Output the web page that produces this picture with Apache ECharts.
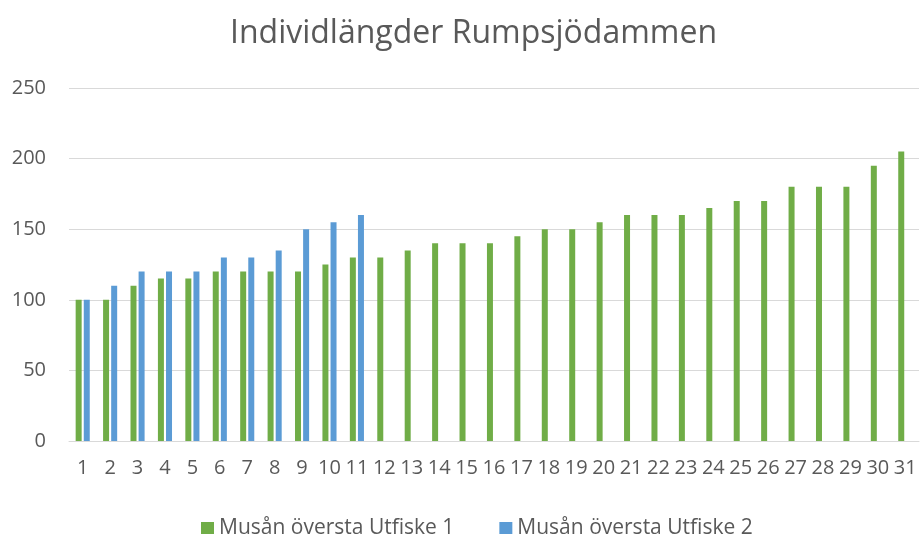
<!DOCTYPE html>
<html><head><meta charset="utf-8">
<script src="https://cdn.jsdelivr.net/npm/echarts@6/dist/echarts.min.js"></script>
<style>html,body{margin:0;padding:0;background:#fff}#c{width:924px;height:534px}</style>
</head><body><div id="c"></div>
<script>
const categories = Array.from({length:31},(_,i)=>String(i+1));
const series1Name = 'Musån översta Utfiske 1';
const series2Name = 'Musån översta Utfiske 2';
const series1 = [100,100,110,115,115,120,120,120,120,125,130,130,135,140,140,140,145,150,150,155,160,160,160,165,170,170,180,180,180,195,205];
const series2 = [100,110,120,120,120,130,130,135,150,155,160];
const yTicks = [0,50,100,150,200,250];

const font = '"Open Sans", sans-serif';
const chart = echarts.init(document.getElementById('c'));
chart.setOption({
  animation:false,
  title:{text:'Individlängder Rumpsjödammen',left:225,top:13,
    textStyle:{fontFamily:font,fontSize:32,fontWeight:'normal',color:'#595959'}},
  legend:{top:513,left:196,itemWidth:13,itemHeight:13,itemGap:45,icon:'rect',
    textStyle:{fontFamily:font,fontSize:21,color:'#595959'},
    data:[series1Name,series2Name]},
  grid:{left:69,right:5,top:88,bottom:93,containLabel:false},
  xAxis:{type:'category',data:categories,
    axisLine:{lineStyle:{color:'#D9D9D9',width:1}},axisTick:{show:false},
    axisLabel:{fontFamily:font,fontSize:20,color:'#595959',margin:17,interval:0}},
  yAxis:{type:'value',min:0,max:250,interval:50,
    axisLine:{show:false},axisTick:{show:false},
    splitLine:{lineStyle:{color:'#D9D9D9',width:1}},
    axisLabel:{fontFamily:font,fontSize:20,color:'#595959',margin:23,
      formatter:v=>yTicks.includes(v)?String(v):''}},
  series:[
    {name:series1Name,type:'bar',data:series1,barWidth:6,barGap:'35%',
     itemStyle:{color:'#70AD47'}},
    {name:series2Name,type:'bar',data:series2,barWidth:6,
     itemStyle:{color:'#5B9BD5'}}
  ]
});
</script></body></html>
